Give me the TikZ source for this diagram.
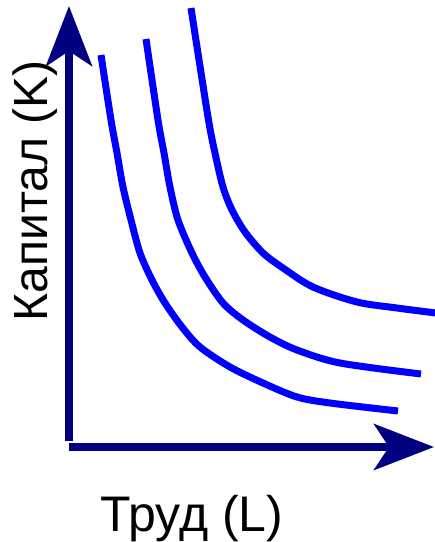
\documentclass[tikz,border=0pt]{standalone}
\usepackage{fontspec}
\setmainfont{Liberation Sans}
\usetikzlibrary{arrows.meta}
\definecolor{axisnavy}{HTML}{000080}
\definecolor{isoblue}{HTML}{0000FF}

\begin{document}
\begin{tikzpicture}[
  x=1pt,y=-1pt,
  axis/.style={line width=7.5pt,color=axisnavy,-{Stealth[length=60pt,width=46pt,inset=15pt]}},
  isoquant/.style={line width=7pt,color=isoblue,line cap=butt},
  label/.style={inner sep=0pt}
]
  \useasboundingbox (0,0) rectangle (435,542);
  \coordinate (origin) at (69,447);
  \coordinate (ktop) at (69,6);
  \coordinate (lend) at (434,447);
  \draw[axis] (69,441) -- (ktop);
  \draw[axis] (origin) -- (lend);
  \draw[isoquant] plot[smooth,tension=0.5] coordinates {(101,55) (111,120) (117,153) (123,187) (131,220) (140,253) (152,280) (165,303) (182,327) (200,347) (230,367) (263,383) (297,397) (330,403) (398,411)};
  \draw[isoquant] plot[smooth,tension=0.5] coordinates {(146,39) (158,120) (164,153) (170,187) (178,220) (192,253) (205,277) (223,303) (243,320) (270,337) (297,350) (340,363) (421,374)};
  \draw[isoquant] plot[smooth,tension=0.5] coordinates {(191,8) (208,117) (215,153) (223,187) (232,210) (245,232) (263,253) (283,268) (313,287) (357,302) (397,308) (436,313)};
  \node[label,font=\fontsize{48}{50}\selectfont,rotate=90,anchor=base] (kapital) at (48,191) {Капитал (K)};
  \node[label,font=\fontsize{50}{52}\selectfont,anchor=base] (trud) at (192,531) {Труд (L)};
\end{tikzpicture}
\end{document}
